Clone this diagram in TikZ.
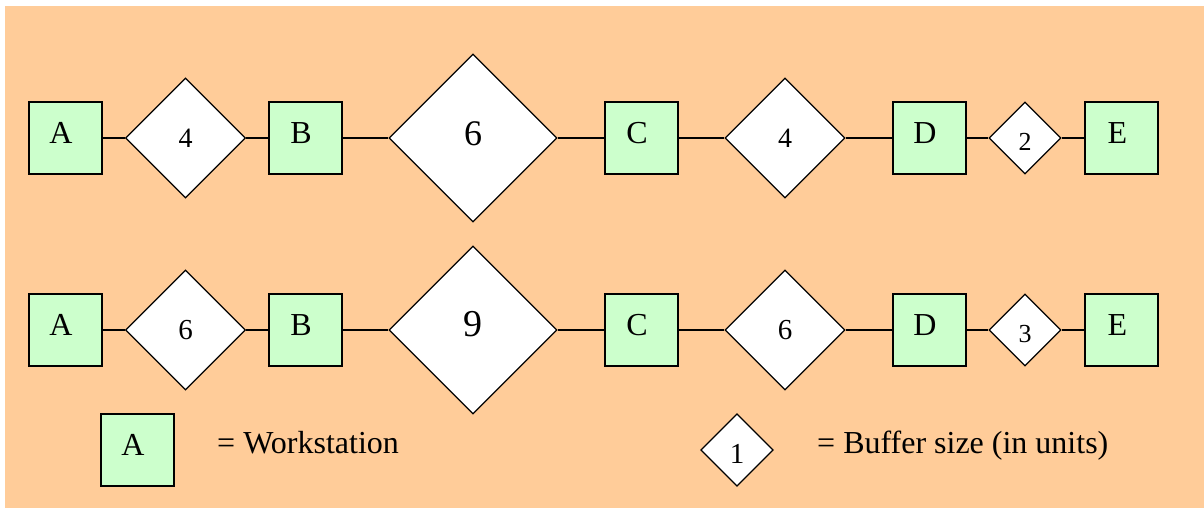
\documentclass[tikz,border=0pt]{standalone}
\usepackage{fontspec}
\setmainfont{Liberation Serif}
\usetikzlibrary{shapes.geometric}
\definecolor{bgorange}{HTML}{FFCC99}
\definecolor{stationgreen}{HTML}{CCFFCC}

\begin{document}
\begin{tikzpicture}[x=1pt,y=-1pt,
  station/.style={draw=black, line width=2pt, fill=stationgreen,
    minimum width=73pt, minimum height=72pt, inner sep=0pt},
  stlabel/.style={xshift=-4pt, yshift=5pt, inner sep=0pt,
    font=\fontsize{32}{36}\selectfont},
  buffer/.style={diamond, draw=black, line width=1.3pt, fill=white,
    inner sep=0pt, shape aspect=1, minimum width=#1, minimum height=#1},
  numsize/.style={inner sep=0pt, font=\fontsize{#1}{#1}\selectfont},
  link/.style={line width=1.5pt},
  legendtext/.style={anchor=base west, inner sep=0pt,
    font=\fontsize{32}{36}\selectfont}]

\useasboundingbox (0,0) rectangle (1204,508);
\fill[bgorange] (5,6) rectangle (1204,508);

% first line: buffers 4, 6, 4, 2
\node[station, label={[stlabel]center:A}] (a1) at (65,138) {};
\node[buffer=120pt, label={[numsize=28]center:4}] (p1) at (185.5,138) {};
\node[station, label={[stlabel]center:B}] (b1) at (305,138) {};
\node[buffer=168pt, label={[numsize=36, yshift=4pt]center:6}] (q1) at (473,138) {};
\node[station, label={[stlabel]center:C}] (c1) at (641,138) {};
\node[buffer=120pt, label={[numsize=28]center:4}] (r1) at (785,138) {};
\node[station, label={[stlabel]center:D}] (d1) at (929,138) {};
\node[buffer=72pt, label={[numsize=26, yshift=-4pt]center:2}] (s1) at (1025,138) {};
\node[station, label={[stlabel]center:E}] (e1) at (1121.5,138) {};

% second line: buffers 6, 9, 6, 3
\node[station, label={[stlabel]center:A}] (a2) at (65,330) {};
\node[buffer=120pt, label={[numsize=29]center:6}] (p2) at (185.5,330) {};
\node[station, label={[stlabel]center:B}] (b2) at (305,330) {};
\node[buffer=168pt, label={[numsize=38, yshift=6pt]center:9}] (q2) at (473,330) {};
\node[station, label={[stlabel]center:C}] (c2) at (641,330) {};
\node[buffer=120pt, label={[numsize=29]center:6}] (r2) at (785,330) {};
\node[station, label={[stlabel]center:D}] (d2) at (929,330) {};
\node[buffer=72pt, label={[numsize=26, yshift=-4pt]center:3}] (s2) at (1025,330) {};
\node[station, label={[stlabel]center:E}] (e2) at (1121.5,330) {};

\foreach \r in {1,2} {
  \draw[link] (a\r.east) -- (p\r.west);
  \draw[link] (p\r.east) -- (b\r.west);
  \draw[link] (b\r.east) -- (q\r.west);
  \draw[link] (q\r.east) -- (c\r.west);
  \draw[link] (c\r.east) -- (r\r.west);
  \draw[link] (r\r.east) -- (d\r.west);
  \draw[link] (d\r.east) -- (s\r.west);
  \draw[link] (s\r.east) -- (e\r.west);
}

% key
\node[station, label={[stlabel]center:A}] (keyst) at (137,450) {};
\node[legendtext] (keysttext) at (217,453) {= Workstation};
\node[buffer=72.5pt, label={[numsize=29, yshift=-4pt]center:1}] (keybuf) at (737,450) {};
\node[legendtext] (keybuftext) at (817,453) {= Buffer size (in units)};
\end{tikzpicture}
\end{document}
